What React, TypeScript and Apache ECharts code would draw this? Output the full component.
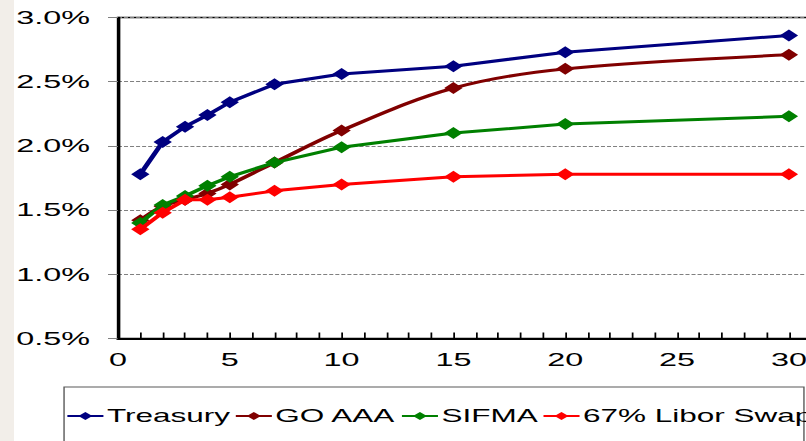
import React, { useEffect, useRef } from "react";
import * as echarts from "echarts";

// Maturities (years) and yields (%)
const maturities = [1, 2, 3, 4, 5, 7, 10, 15, 20, 30];
const treasury = [1.78, 2.03, 2.15, 2.24, 2.34, 2.48, 2.56, 2.62, 2.73, 2.86];
const goAAA = [1.42, 1.53, 1.58, 1.63, 1.7, 1.87, 2.12, 2.45, 2.6, 2.71];
const sifma = [1.4, 1.54, 1.61, 1.69, 1.76, 1.87, 1.99, 2.1, 2.17, 2.23];
const libor67 = [1.35, 1.48, 1.58, 1.58, 1.6, 1.65, 1.7, 1.76, 1.78, 1.78];

const seriesNames = ["Treasury", "GO AAA", "SIFMA", "67% Libor Swap"];
const seriesColors = ["#000080", "#800000", "#008000", "#ff0000"];
const seriesValues = [treasury, goAAA, sifma, libor67];
const seriesSmooth = [false, 0.35, false, false];

// The chart is laid out on a narrow canvas and widened horizontally.
const STRETCH = 1.75;
const FULL_W = 806;
const FULL_H = 441;
const W = FULL_W / STRETCH;
const X_MAX = 35;
const PX_PER_YEAR = 12.78;
const FONT = "'Liberation Sans', Arial, sans-serif";

export default function App() {
  const ref = useRef<HTMLDivElement>(null);

  useEffect(() => {
    if (!ref.current) return;
    const chart = echarts.init(ref.current, null, { renderer: "svg" });
    const gridLeft = 67.4;
    const gridWidth = X_MAX * PX_PER_YEAR;

    chart.setOption({
      animation: false,
      backgroundColor: "#ffffff",
      textStyle: { fontFamily: FONT },
      grid: {
        left: gridLeft,
        top: 17.5,
        width: gridWidth,
        height: 321,
        containLabel: false,
        outerBoundsMode: "none",
        show: true,
        borderColor: "#000",
        borderWidth: 1.3,
        backgroundColor: "transparent",
      },
      xAxis: {
        type: "value",
        min: 0,
        max: X_MAX,
        interval: 5,
        axisLine: { show: true, lineStyle: { color: "#000", width: 2 } },
        axisTick: { show: true, inside: true, length: 6, lineStyle: { color: "#000", width: 1 } },
        minorTick: { show: true, splitNumber: 5, length: 6, lineStyle: { color: "#000", width: 1 } },
        splitLine: { show: false },
        axisLabel: {
          color: "#000",
          fontSize: 18.5,
          fontFamily: FONT,
          margin: 12,
          showMaxLabel: true,
        },
      },
      yAxis: {
        type: "value",
        min: 0.5,
        max: 3.0,
        interval: 0.5,
        axisLine: { show: true, lineStyle: { color: "#000", width: 1.55 } },
        axisTick: { show: true, inside: false, length: 5.7, lineStyle: { color: "#808080", width: 1 } },
        splitLine: { show: true, lineStyle: { color: "#808080", width: 1, type: [2.3, 1.15] } },
        axisLabel: {
          color: "#000",
          fontSize: 18.5,
          fontFamily: FONT,
          margin: 16,
          formatter: (v: number) => v.toFixed(1) + "%",
        },
      },
      legend: {
        left: 37.5,
        top: 407,
        width: 700,
        padding: 0,
        itemGap: 2.3,
        itemWidth: 20.6,
        itemHeight: 10,
        textStyle: { color: "#000", fontSize: 18, fontFamily: FONT, padding: [0, 0, 0, -3] },
        data: seriesNames,
      },
      graphic: [
        {
          type: "rect",
          left: 0,
          top: 0,
          shape: { x: 0, y: 0, width: 8, height: FULL_H },
          style: { fill: "#f2eee9" },
          silent: true,
        },
        {
          type: "rect",
          shape: { x: 36.6, y: 387, width: 422.8, height: 100 },
          style: { fill: "none", stroke: "#595959", lineWidth: 0.8 },
          silent: true,
          z: -1,
        },
      ],
      series: seriesNames.map((name, i) => ({
        name,
        type: "line",
        data: maturities.map((m, j) => [m, seriesValues[i][j]]),
        smooth: seriesSmooth[i],
        symbol: "diamond",
        symbolSize: [10.5, 12],
        itemStyle: { color: seriesColors[i] },
        lineStyle: { color: seriesColors[i], width: 3 },
        z: 3 + i,
      })),
    });

    return () => chart.dispose();
  }, []);

  return (
    <div
      style={{
        position: "fixed",
        left: 0,
        top: 0,
        width: FULL_W,
        height: FULL_H,
        overflow: "hidden",
        background: "#fff",
      }}
    >
      <div
        ref={ref}
        style={{
          width: W,
          height: FULL_H,
          transform: `scaleX(${STRETCH})`,
          transformOrigin: "0 0",
        }}
      />
    </div>
  );
}
